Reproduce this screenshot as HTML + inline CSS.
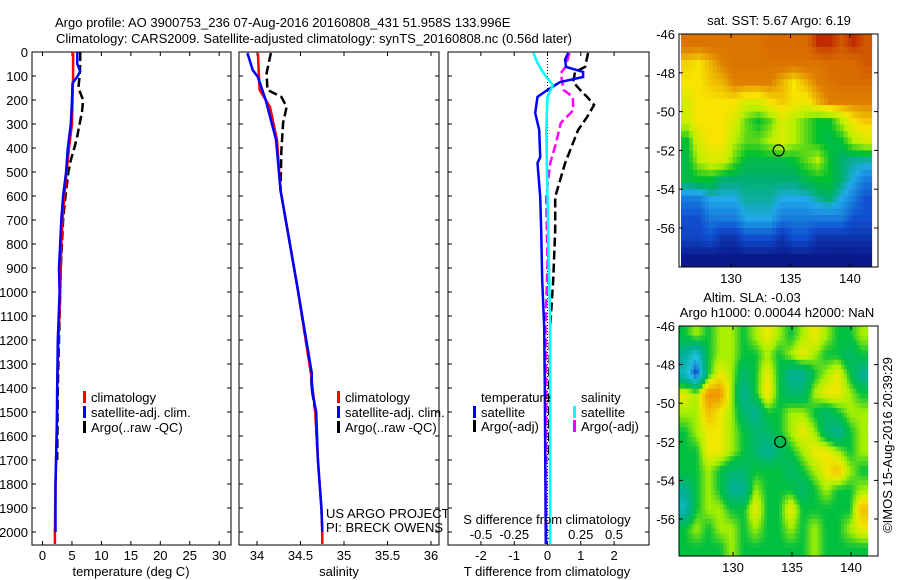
<!DOCTYPE html>
<html><head><meta charset="utf-8"><style>
html,body{margin:0;padding:0;background:#fff;}
svg{display:block;font-family:"Liberation Sans",sans-serif;}
text{font-size:13px;fill:#000;}
</style></head><body>
<svg id="fig" width="900" height="580" viewBox="0 0 900 580" xmlns="http://www.w3.org/2000/svg">
<text x="55" y="27">Argo profile: AO 3900753_236 07-Aug-2016 20160808_431 51.958S 133.996E</text>
<text x="56" y="43">Climatology: CARS2009. Satellite-adjusted climatology: synTS_20160808.nc (0.56d later)</text>
<g id="layer"></g>
</svg>
<script>
// ---------- profile data ----------
const tDepthArgo = [0,50,100,150,200,250,300,350,400,450,500,600,700,800,900,1000,1200,1400,1700];
const tArgo      = [6.4,6.4,6.3,6.1,6.9,6.7,6.3,5.9,5.4,4.8,4.4,3.9,3.5,3.3,3.1,3.0,2.8,2.6,2.5];
const tDepthClim = [0,100,200,300,400,500,600,700,800,900,1000,1200,1400,1600,1800,2000,2050];
const tClim      = [5.2,5.2,5.1,5.0,4.5,4.1,3.7,3.4,3.2,3.1,3.0,2.7,2.5,2.4,2.2,2.1,2.1];
const tDepthSat  = [0,50,80,100,130,200,300,400,500,600,700,800,900,1000,1200,1400,1500,1800,2000];
const tSat       = [5.9,5.9,6.4,6.0,5.1,5.0,4.8,4.3,4.0,3.5,3.2,3.0,2.8,2.9,2.6,2.5,2.5,2.2,2.2];

const sDepthArgo = [4,88,158,187,229,296,408,575,783,992,1338,1404,1500,1700];
const sArgo      = [34.16,34.11,34.12,34.28,34.34,34.30,34.28,34.27,34.37,34.47,34.62,34.63,34.67,34.70];
const sDepthClim = [4,158,229,367,575,783,992,1338,1500,1700,1900,2000,2050];
const sClim      = [34.01,34.03,34.15,34.23,34.27,34.37,34.47,34.62,34.67,34.70,34.74,34.75,34.75];
const sDepthSat  = [4,75,104,200,367,575,783,992,1338,1404,1500,1700,1900,2000];
const sSat       = [33.89,33.95,34.01,34.10,34.22,34.27,34.37,34.47,34.63,34.63,34.68,34.70,34.74,34.75];

const dDepthTSat  = [4,32,62,83,104,125,158,187,254,325,438,463,604,742,950,1146,1400,2050];
const dTSat       = [0.62,0.53,0.56,1.07,1.07,0.38,0.0,-0.3,-0.37,-0.25,-0.22,-0.3,-0.22,-0.19,-0.16,-0.1,-0.08,-0.05];
const dDepthTArgo = [4,62,83,125,167,187,221,271,325,463,604,742,950,1146,1400,1700];
const dTArgo      = [1.22,1.13,0.83,0.77,1.04,1.19,1.40,1.19,0.92,0.53,0.23,0.23,0.17,0.08,0.05,0.05];
const dDepthSSat  = [4,46,88,138,187,325,604,1146,1400,2050];
const dSSat       = [-0.105,-0.075,-0.03,0.04,0.0,-0.01,0.0,0.02,0.02,0.02];
const dDepthSArgo = [4,62,88,158,187,242,296,388,463,604,880,1146,1400,2050];
const dSArgo      = [0.165,0.135,0.10,0.12,0.19,0.195,0.10,0.06,0.02,-0.01,0.0,-0.015,-0.01,-0.01];

// ---------- map data ----------
const sstLat0 = -46, sstLon0 = 125.8;
const sstGrid = [
[8.3,8.3,8.3,8.3,8.3,8.3,8.3,8.5,8.5,8.5,8.5,9.5,9.5,9,9.5,9],
[7.2,7,7.5,8,8.3,8.3,8.3,8.3,8.3,8.3,8.3,8.3,8.5,8.5,8.5,9],
[7,7,7.3,7.5,8,8,8,8,7.5,7,7.5,8,8.3,8.5,8.5,8.5],
[6.5,7,7,7,7,6.5,6.5,7,7.3,7,6.8,7.5,8,8,8,8],
[6.3,7,7,7,6.5,5.5,5,5.5,6.5,6,5.5,5,5,6,7,7.3],
[5,6.5,7,7,6,5.5,5.5,6,6.5,6,5.5,5,4.8,5,6,6.5],
[4.8,6,6.5,6.5,5.5,4.8,4.8,4.8,4.8,5,5.5,6,5,4.5,4.3,4.3],
[4.8,5,5,4.5,4.5,4.5,4.5,4.5,4.5,4.5,4.8,5,5,4.5,4,3.5],
[3.5,3.5,4,4,4,4.3,4.3,4.3,4,4,4,4.3,4.5,4,3.5,3],
[3,3,3.5,3.5,3.5,4,4,4,3.5,3.5,3.5,3.5,3.5,3.5,3,3],
[2.8,2.8,3,2.5,2.5,3,3,3,2.5,3,3,2.5,2.5,2.5,2.5,2.5],
[2,2,2,2,2,2,2,2,2,2,2,2,2,2,2,2]];
const slaGrid = [
[0,0.05,0,0.05,0.05,0,0.05,0.1,0.05,0,0.05,0.1,0.05,0,0,0.05],
[-0.1,-0.2,0,0.05,0.05,0,0,0.05,0,0.05,0.1,0.05,0,0,-0.05,0],
[-0.15,-0.3,0,0.1,0.05,-0.05,0,0.1,0,-0.1,-0.1,0,0.05,0.1,0,-0.1],
[0.1,0.05,0.2,0.2,0.05,-0.1,0,0.12,0,-0.05,-0.05,0.05,0.1,0.1,0.05,0],
[0.05,0.05,0.15,0.1,0.05,-0.05,-0.1,0,0,0.05,0.05,0,-0.05,0,0.05,0.05],
[0,0.05,0.1,0.1,0.05,0,-0.05,-0.05,0,0.05,0.1,0.05,-0.05,-0.1,0,0.05],
[0,0,0.1,0.1,0.05,0,-0.05,-0.1,-0.05,0,0.05,0.1,0.1,0.05,0,0.05],
[0,0,0.05,0,-0.05,-0.05,0,0,0,-0.05,0,0.05,0.1,0.15,0.05,0],
[-0.1,0,0.05,0,-0.1,-0.1,0.05,0,0,0,-0.05,0,0.05,0,0,0.05],
[-0.15,0,0.05,0.05,0,0,0.1,0,0,0.1,0,0,0,0,0,0.15],
[0,0.05,0,0.05,0.05,0,0.05,0,0,0.05,0,0.05,0,0,0.05,0.1],
[0,0,0,0,0.05,0,0,0,0,0,0,0.05,0,0,0,0]];
const sstStops = [2,3,4,4.5,5,6,7,8,9,10];
const sstColors = ['#0a1a8a','#1050d0','#20a8e8','#00b070','#00c030','#b8f000','#f8e400','#e08000','#d05800','#b00000'];
const slaStops = [-0.3,-0.2,-0.1,0,0.05,0.1,0.2];
const slaColors = ['#1030c0','#20c0e0','#00b098','#00c040','#a8f000','#f0e800','#f09000'];
const latTicks = [-46,-48,-50,-52,-54,-56];
const lonTicks = [130,135,140];
const argoLat = -52, argoLon = 134;

const NS = 'http://www.w3.org/2000/svg';
const layer = document.getElementById('layer');
function mk(tag, attrs, parent){
  const e = document.createElementNS(NS, tag);
  for (const k in attrs) e.setAttribute(k, attrs[k]);
  (parent||layer).appendChild(e);
  return e;
}
function txt(x,y,s,anchor,parent){
  const t = mk('text',{x:x,y:y,'text-anchor':anchor||'start'},parent);
  t.textContent = s; return t;
}

const yTop = 52, pxPerM = 0.24, yBot = 545;
const yD = d => yTop + d*pxPerM;

function panel(name, x0, x1){
  const g = mk('g',{});
  
  
  const r = mk('rect',{x:x0,y:yTop,width:x1-x0,height:yBot-yTop,fill:'#fff',stroke:'#000','stroke-width':1},g);
  
  
  for (let d=100; d<=2000; d+=100){
    mk('line',{x1:x0,y1:yD(d),x2:x0+4,y2:yD(d),stroke:'#000'},g);
    mk('line',{x1:x1,y1:yD(d),x2:x1-4,y2:yD(d),stroke:'#000'},g);
  }
  return g;
}
function xTicks(g, vals, fx, labels, labY){
  vals.forEach((v,i)=>{
    const x = fx(v);
    mk('line',{x1:x,y1:yBot,x2:x,y2:yBot-4,stroke:'#000'},g);
    mk('line',{x1:x,y1:yTop,x2:x,y2:yTop+4,stroke:'#000'},g);
    if (labels){ const t = txt(x, labY, labels[i], 'middle', g);
      
       }
  });
}
function line(g, depths, vals, fx, color, dashed, name){
  const pts = depths.map((d,i)=>fx(vals[i]).toFixed(1)+','+yD(d).toFixed(1)).join(' ');
  const p = mk('polyline',{points:pts,fill:'none',stroke:color,'stroke-width':2.5,'stroke-dasharray':dashed?'9,4':'none'},g);
  
  
}
function legendItem(g,x,y,color,label,name){
  mk('rect',{x:x,y:y-11,width:3,height:12,fill:color},g);
  const t = txt(x+8,y,label,'start',g);
  
  
}

for (let d=0; d<=2000; d+=100){
  const t = txt(28, yD(d)+5, String(d), 'end');
  
  
}

// Panel 1 temperature
const fT = v => 42.5 + v*5.89;
const g1 = panel('temperature-panel', 32, 231);
const tT = [0,5,10,15,20,25,30];
xTicks(g1, tT, fT, tT.map(String), 560);
line(g1, tDepthArgo, tArgo, fT, '#000', true, 'temp-argo-line');
line(g1, tDepthClim, tClim, fT, '#f00', false, 'temp-climatology-line');
line(g1, tDepthSat, tSat, fT, '#00f', false, 'temp-satellite-line');
legendItem(g1,83,402,'#f00','climatology','legend-climatology');
legendItem(g1,83,417,'#00f','satellite-adj. clim.','legend-satellite');
legendItem(g1,83,432,'#000','Argo(..raw -QC)','legend-argo');
let t = txt(131,576,'temperature (deg C)','middle');  

// Panel 2 salinity
const fS = v => 257 + (v-34)*87;
const g2 = panel('salinity-panel', 239, 439);
const tS = [34,34.5,35,35.5,36];
xTicks(g2, tS, fS, tS.map(String), 560);
line(g2, sDepthArgo, sArgo, fS, '#000', true, 'sal-argo-line');
line(g2, sDepthClim, sClim, fS, '#f00', false, 'sal-climatology-line');
line(g2, sDepthSat, sSat, fS, '#00f', false, 'sal-satellite-line');
legendItem(g2,337,402,'#f00','climatology','legend-climatology-2');
legendItem(g2,337,417,'#00f','satellite-adj. clim.','legend-satellite-2');
legendItem(g2,337,432,'#000','Argo(..raw -QC)','legend-argo-2');
t = txt(326,518,'US ARGO PROJECT','start',g2);  
t = txt(326,532,'PI: BRECK OWENS','start',g2);  
t = txt(339,576,'salinity','middle');  

// Panel 3 differences
const fdT = v => 547.5 + v*33.3;
const fdS = v => 547.5 + v*133;
const g3 = panel('difference-panel', 448, 649);
const tdT = [-2,-1,0,1,2];
xTicks(g3, tdT, fdT, tdT.map(String), 560);
const tdS = [-0.5,-0.25,0,0.25,0.5];
const tdSLab = ['-0.5','-0.25','0','0.25','0.5'];
tdS.forEach((v,i)=>{ const tt = txt(fdS(v), 539, tdSLab[i], 'middle', g3);   });
mk('line',{x1:fdT(0),y1:yTop,x2:fdT(0),y2:yBot,stroke:'#000','stroke-dasharray':'1,2'},g3);
line(g3, dDepthTArgo, dTArgo, fdT, '#000', true, 'tdiff-argo-line');
line(g3, dDepthSArgo, dSArgo, fdS, '#f0f', true, 'sdiff-argo-line');
line(g3, dDepthTSat, dTSat, fdT, '#00f', false, 'tdiff-satellite-line');
line(g3, dDepthSSat, dSSat, fdS, '#0ff', false, 'sdiff-satellite-line');
t = txt(481,402,'temperature','start',g3);  
t = txt(581,402,'salinity','start',g3);  
legendItem(g3,473,417,'#00f','satellite','legend-t-satellite');
legendItem(g3,473,431,'#000','Argo(-adj)','legend-t-argo');
legendItem(g3,573,417,'#0ff','satellite','legend-s-satellite');
legendItem(g3,573,431,'#f0f','Argo(-adj)','legend-s-argo');
t = txt(547,524,'S difference from climatology','middle',g3);  
t = txt(547,576,'T difference from climatology','middle');  

// ---------- maps ----------
function hex2rgb(h){ return [1,3,5].map(i=>parseInt(h.substr(i,2),16)); }
function colorFor(v, stops, colors){
  if (v <= stops[0]) return colors[0];
  if (v >= stops[stops.length-1]) return colors[colors.length-1];
  let i = 0;
  while (i < stops.length-2 && v > stops[i+1]) i++;
  const f = (v-stops[i])/(stops[i+1]-stops[i]);
  const a = hex2rgb(colors[i]), b = hex2rgb(colors[i+1]);
  return 'rgb('+a.map((x,k)=>Math.round(x+(b[k]-x)*f)).join(',')+')';
}
function sample(grid, r, c){
  const R = grid.length, C = grid[0].length;
  r = Math.max(0, Math.min(R-1, r)); c = Math.max(0, Math.min(C-1, c));
  const r0 = Math.floor(r), c0 = Math.floor(c);
  const r1 = Math.min(R-1, r0+1), c1 = Math.min(C-1, c0+1);
  const fr = r-r0, fc = c-c0;
  const top = grid[r0][c0]*(1-fc)+grid[r0][c1]*fc;
  const bot = grid[r1][c0]*(1-fc)+grid[r1][c1]*fc;
  return top*(1-fr)+bot*fr;
}
function drawMap(name, grid, stops, colors, box, latTop, degPxY, lon0, degPxX, lonAt, titleLines, sub){
  const g = mk('g',{});
  
  
  const fx = lon => lonAt.x + (lon-lonAt.lon)*degPxX;
  const fy = lat => box.y + (latTop-lat)*degPxY;
  const R = grid.length, C = grid[0].length;
  for (let r=0; r<R*sub; r++){
    for (let c=0; c<C*sub; c++){
      const v = sample(grid, (r+0.5)/sub-0.5, (c+0.5)/sub-0.5);
      const x0 = Math.max(fx(lon0+c/sub), box.x), x1 = Math.min(fx(lon0+(c+1)/sub), box.x+box.w);
      const y0 = fy(latTop-r/sub), y1 = Math.min(fy(latTop-(r+1)/sub), box.y+box.h);
      if (x1<=x0 || y1<=y0) continue;
      const cell = mk('rect',{x:x0.toFixed(1),y:y0.toFixed(1),width:(x1-x0+0.6).toFixed(1),height:(y1-y0+0.6).toFixed(1),fill:colorFor(v,stops,colors)},g);
      
      
    }
  }
  mk('rect',{x:box.x,y:box.y,width:box.w,height:box.h,fill:'none',stroke:'#000'},g);
  latTicks.forEach(l=>{
    const y = fy(l);
    mk('line',{x1:box.x,y1:y,x2:box.x+4,y2:y,stroke:'#000'},g);
    mk('line',{x1:box.x+box.w,y1:y,x2:box.x+box.w-4,y2:y,stroke:'#000'},g);
    const tt = txt(box.x-4, y+5, String(l), 'end', g);
    
    
  });
  lonTicks.forEach(l=>{
    const x = fx(l);
    mk('line',{x1:x,y1:box.y,x2:x,y2:box.y+4,stroke:'#000'},g);
    mk('line',{x1:x,y1:box.y+box.h,x2:x,y2:box.y+box.h-4,stroke:'#000'},g);
    const tt = txt(x, box.y+box.h+16, String(l), 'middle', g);
    
    
  });
  const c = mk('circle',{cx:fx(argoLon),cy:fy(argoLat),r:5.5,fill:'none',stroke:'#000','stroke-width':1.2},g);
  
  
  titleLines.forEach(tl=>{
    const tt = txt(tl.x, tl.y, tl.s, 'middle', g);
    
    
  });
}
drawMap('sst-map', sstGrid, sstStops, sstColors, {x:679,y:34,w:199,h:233}, -46, 19.4, sstLon0, 11.9, {lon:130,x:731},
  [{x:779,y:25,s:'sat. SST: 5.67 Argo: 6.19'}], 3);
drawMap('sla-map', slaGrid, slaStops, slaColors, {x:679,y:326,w:199,h:230}, -46, 19.3, 125.4, 11.8, {lon:130,x:733},
  [{x:752,y:302,s:'Altim. SLA: -0.03'},{x:777,y:317,s:'Argo h1000: 0.00044 h2000: NaN'}], 4);

t = txt(0,0,'©IMOS 15-Aug-2016 20:39:29','middle');
t.setAttribute('transform','translate(892,445) rotate(-90)');


</script>
</body></html>
